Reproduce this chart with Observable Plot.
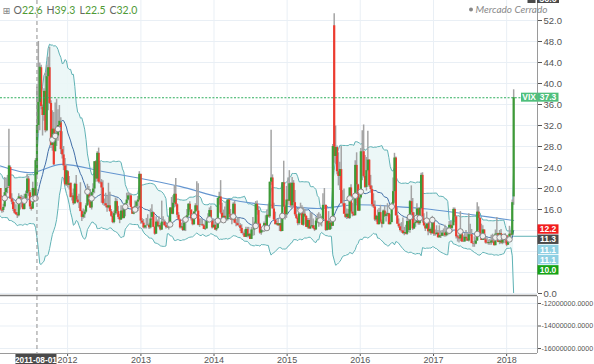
<!DOCTYPE html>
<html><head><meta charset="utf-8">
<script src="https://cdn.jsdelivr.net/npm/d3@7"></script>
<script src="https://cdn.jsdelivr.net/npm/@observablehq/plot@0.6"></script>
<style>
html,body{margin:0;padding:0;background:#fff;}
#wrap{position:relative;width:594px;height:364px;overflow:hidden;background:#fff;}
#wrap svg{display:block;}
#over{position:absolute;left:0;top:0;pointer-events:none;}
</style></head><body><div id="wrap"></div>
<script>
// ---- weekly VIX candles, first week starts Monday 2010-09-06 ----
const startWeek = "2010-09-06";
const opens = [
/*2010*/23.8,22.0,22.0,21.7,22.5,19.0,19.2,20.0,21.2,18.5,20.6,18.3,22.0,18.1,17.6,16.2,16.6,
/*2011*/17.9,17.1,15.6,18.5,20.0,15.9,15.8,16.5,19.2,20.0,20.4,24.0,18.0,17.4,16.0,15.4,15.0,14.8,18.3,17.3,17.4,16.0,18.0,19.0,21.8,19.2,16.5,16.1,19.9,17.6,22.6,32.0,36.4,43.0,35.5,33.9,38.5,31.0,41.3,43.0,36.2,28.2,31.3,27.0,30.5,30.0,32.0,32.5,27.4,26.4,24.3,20.7,
/*2012*/23.2,20.6,21.0,18.4,18.6,17.1,20.8,17.8,17.3,17.3,15.6,14.5,15.0,15.5,16.7,19.6,17.4,16.3,19.2,19.9,25.1,21.8,26.7,21.2,21.1,20.1,17.1,17.1,16.7,16.3,16.7,15.6,14.7,13.5,15.2,17.5,15.6,14.5,14.0,15.7,14.3,16.1,17.1,17.8,18.6,18.6,16.4,15.1,15.9,16.6,17.4,17.8,22.7,
/*2013*/13.8,13.4,12.5,12.9,12.9,13.0,12.5,14.5,15.4,12.6,11.3,13.6,12.7,12.9,12.1,13.6,13.6,12.9,12.6,12.5,13.0,16.3,15.1,17.2,18.9,16.9,14.9,14.0,12.5,12.7,12.0,13.4,14.4,14.8,17.0,15.9,14.2,13.1,15.5,16.7,15.7,13.0,13.1,13.1,12.9,12.2,12.3,13.7,13.8,15.8,13.8,12.5,
/*2014*/13.0,12.1,12.4,18.1,18.4,15.3,13.6,14.7,14.0,14.1,17.8,15.0,14.4,14.0,17.0,13.4,13.3,12.9,12.9,12.4,11.4,11.4,10.7,12.2,10.9,11.3,10.3,12.1,12.1,12.7,17.0,15.8,13.2,11.5,12.1,12.1,13.3,12.1,14.9,14.6,21.2,22.0,16.1,14.0,13.1,13.3,12.9,13.3,11.8,21.1,16.5,15.0,
/*2015*/17.8,17.6,20.9,16.7,21.0,17.3,15.0,14.3,13.3,15.2,16.0,13.0,15.1,14.7,12.6,13.9,12.3,12.7,12.9,12.4,12.1,13.8,14.2,13.8,14.0,14.0,16.8,16.8,12.0,13.7,12.1,13.4,12.8,51.0,26.1,27.8,23.2,22.3,23.6,17.1,17.1,15.1,14.5,15.1,14.3,20.1,15.5,15.1,14.8,24.4,20.7,15.7,
/*2016*/18.2,27.0,27.0,22.3,20.2,23.4,25.4,20.5,19.8,16.9,16.5,14.0,14.7,13.1,15.4,13.6,13.2,15.7,14.7,15.0,15.2,13.1,13.5,17.0,19.4,25.8,14.8,13.2,12.7,12.0,11.9,11.4,11.6,11.3,13.7,12.0,17.5,15.4,12.3,13.3,13.5,16.1,13.3,16.2,22.5,14.2,12.9,12.3,14.1,11.75,12.2,11.4,
/*2017*/14.0,11.3,11.2,11.5,10.6,11.0,10.9,11.5,11.5,11.0,11.7,11.3,13.0,12.4,12.9,16.0,14.6,10.8,10.6,10.4,12.0,9.8,9.8,10.7,10.4,10.0,11.2,11.2,9.5,9.4,9.4,10.0,15.5,14.3,11.3,10.1,12.1,10.2,9.6,9.5,9.7,9.6,10.0,9.8,9.1,11.3,11.4,9.7,11.4,9.6,10.5,10.9,
/*2018*/11.0,9.2,10.2,11.3,11.1,18.4];
const highs = [
/*2010*/24.0,23.1,23.4,23.9,23.0,20.6,21.5,22.3,22.0,21.2,22.6,22.5,23.1,18.7,17.9,16.8,18.3,
/*2011*/18.2,17.4,18.9,20.7,20.0,16.1,17.0,22.1,21.8,22.5,31.3,24.3,19.0,17.9,17.3,16.9,15.4,19.0,18.6,18.7,18.5,18.9,19.5,22.7,22.3,19.6,17.0,21.2,20.1,25.7,39.3,48.0,43.9,43.5,35.9,39.0,42.0,43.5,45.0,46.9,36.7,34.8,34.5,36.3,37.0,35.0,35.8,33.5,30.8,28.0,25.7,24.6,
/*2012*/23.4,22.3,21.0,19.1,19.9,21.0,22.5,18.5,18.9,21.1,15.8,16.1,15.9,17.1,20.8,20.4,19.8,19.3,20.9,25.1,25.3,27.0,27.7,24.9,21.7,21.5,18.0,19.1,18.7,21.0,19.3,16.0,15.4,15.7,18.2,18.0,16.6,15.1,16.7,16.2,16.6,17.2,19.1,19.2,19.1,18.9,16.4,16.5,17.6,17.6,18.5,23.2,22.7,
/*2013*/14.3,14.1,13.0,14.3,15.0,13.4,16.1,16.9,15.5,12.7,14.6,14.0,14.6,13.3,17.6,14.6,14.0,13.5,13.2,14.5,16.3,18.3,18.6,20.5,21.9,17.1,15.4,14.2,13.4,14.2,13.8,14.7,16.0,17.1,17.5,15.9,14.7,15.6,17.1,21.3,20.9,14.2,14.3,14.1,13.2,13.8,13.7,15.2,16.3,16.6,13.9,14.2,
/*2014*/13.6,13.4,18.2,19.3,21.5,17.2,15.9,16.5,17.4,17.9,17.8,16.0,14.5,17.3,17.6,14.1,14.4,14.4,13.3,13.1,11.7,12.1,12.6,12.6,12.6,11.3,12.6,14.5,13.6,17.5,17.6,16.5,13.4,12.3,12.6,13.6,14.8,15.9,17.0,21.2,31.1,22.6,17.2,15.5,13.8,14.2,13.3,14.4,21.1,25.2,16.8,20.4,
/*2015*/22.0,23.4,21.1,22.1,21.5,19.6,16.3,14.6,15.4,17.2,16.7,16.4,16.0,14.8,14.3,14.3,15.4,15.3,14.2,12.9,14.5,15.1,15.4,15.1,14.7,19.0,20.0,16.8,13.8,15.6,14.3,14.6,28.4,53.3,31.9,28.1,26.8,25.0,28.0,19.6,19.9,17.1,16.1,16.0,20.1,20.7,17.2,18.2,25.3,26.8,20.8,18.9,
/*2016*/27.6,31.0,32.1,26.3,25.9,30.9,25.5,22.5,20.5,19.0,17.6,14.9,15.9,16.2,16.8,14.0,15.9,16.7,15.5,17.1,15.3,15.0,17.3,22.0,26.7,26.0,16.4,14.2,13.3,13.5,14.4,12.6,13.0,14.4,14.0,17.7,20.5,18.1,15.4,14.0,17.1,16.3,16.4,22.9,23.0,15.2,13.1,15.5,14.2,14.1,12.5,14.7,
/*2017*/14.3,12.1,12.9,12.0,12.9,11.9,12.0,12.3,13.0,12.4,12.5,13.7,13.7,13.6,16.3,16.3,14.7,11.1,11.1,15.6,12.1,11.0,11.4,12.0,11.4,15.2,13.2,12.2,9.9,10.8,10.6,17.3,16.5,14.5,13.2,12.9,12.1,10.8,10.6,10.2,10.3,11.1,11.3,10.5,12.1,14.5,11.5,12.0,12.2,11.0,10.8,11.4,
/*2018*/11.1,10.6,12.8,12.0,17.8,38.8];
const lows = [
/*2010*/21.3,21.0,21.2,21.4,18.6,18.5,18.6,19.3,18.0,18.2,18.0,17.9,17.9,17.1,15.4,15.6,16.0,
/*2011*/16.8,15.2,15.3,16.9,15.7,15.3,15.4,16.3,18.2,19.0,20.0,17.9,16.9,15.6,15.1,14.9,14.3,14.6,15.9,16.3,15.9,15.9,17.6,17.9,18.5,16.0,15.7,16.0,17.3,17.5,22.5,30.5,31.0,35.0,30.0,32.8,30.6,30.8,34.8,36.0,27.6,27.1,24.4,27.0,28.0,29.0,31.0,26.5,25.6,23.4,20.5,20.4,
/*2012*/20.1,19.7,18.2,17.6,16.8,17.0,17.5,17.1,16.2,15.6,13.7,14.2,14.3,15.3,16.6,16.9,16.2,15.9,18.7,19.0,21.2,21.3,20.9,20.8,17.2,16.8,16.6,16.3,15.5,16.1,15.5,14.5,13.3,13.3,14.9,15.0,14.1,13.3,13.9,14.2,14.2,14.6,16.9,17.6,16.8,16.3,15.1,15.0,15.6,15.4,15.6,17.6,13.2,
/*2013*/13.2,12.3,12.3,12.3,12.9,12.2,12.3,13.9,12.6,11.1,11.3,12.7,12.5,11.9,12.0,13.0,12.8,12.3,12.4,12.1,13.0,15.1,15.0,16.3,16.5,14.4,13.8,12.3,12.3,11.8,11.8,11.8,13.9,14.5,15.5,13.8,12.9,13.0,14.8,15.6,12.9,12.6,12.9,12.8,12.2,12.0,12.3,13.4,13.6,13.8,12.3,12.5,
/*2014*/12.0,11.8,12.3,16.8,15.0,13.6,13.4,13.4,13.9,13.8,14.5,13.9,13.1,13.8,13.3,12.7,12.9,12.6,11.8,11.4,11.0,10.7,10.7,10.6,10.6,10.3,10.3,10.9,11.0,12.6,14.9,12.6,11.3,11.1,11.6,11.7,12.1,12.0,14.4,14.3,20.6,16.1,13.9,13.1,12.9,12.8,11.8,11.7,11.8,16.4,14.0,14.3,
/*2015*/16.8,17.5,16.3,16.0,16.4,14.7,14.1,12.9,13.0,14.8,13.0,12.8,14.5,12.6,12.3,12.3,12.2,12.6,12.2,11.8,12.1,13.3,12.6,12.9,12.7,14.0,16.1,11.8,11.9,12.1,12.0,12.2,12.8,24.8,24.6,22.6,20.5,19.6,17.1,16.6,15.1,14.3,14.1,14.2,14.1,15.3,14.6,14.7,14.8,17.0,15.6,15.6,
/*2016*/18.0,21.5,22.0,20.0,19.5,23.2,20.2,19.1,16.5,16.2,13.7,13.6,13.1,13.1,13.4,12.5,13.1,14.5,13.6,14.6,13.1,13.1,13.5,16.5,17.2,14.7,13.2,12.4,11.7,11.5,11.3,11.0,11.2,11.1,11.6,11.5,15.0,12.0,12.2,12.6,13.4,13.0,13.0,16.0,13.4,12.7,11.8,12.3,11.0,11.4,11.1,11.3,
/*2017*/10.9,10.9,11.2,10.6,10.6,10.5,10.9,10.8,10.7,10.8,11.0,11.2,11.5,11.6,12.9,13.5,10.4,9.8,9.6,9.9,9.8,9.7,9.8,9.9,9.9,9.8,10.9,9.5,8.8,8.8,9.3,9.9,11.9,11.1,10.1,10.1,10.1,9.4,9.5,9.2,9.2,9.2,9.5,9.1,9.1,10.5,9.7,9.3,9.4,9.3,9.5,9.5,
/*2018*/8.9,9.2,10.1,10.5,11.0,16.8];
const closes = [
/*2010*/22.0,22.0,21.7,22.5,18.9,19.1,19.8,21.2,18.3,20.6,18.0,22.0,18.0,17.6,16.1,16.5,17.8,
/*2011*/17.1,15.5,18.5,20.0,15.9,15.7,16.4,19.2,20.0,20.1,24.3,18.0,17.4,16.0,15.3,15.0,14.8,18.4,17.1,17.4,16.0,17.9,18.9,21.8,19.3,16.5,16.0,20.0,17.5,25.3,32.0,36.4,43.1,35.6,33.9,38.5,31.0,41.3,43.0,36.2,28.2,31.3,24.5,30.5,30.0,32.0,32.8,27.4,26.4,24.3,20.7,23.4,
/*2012*/20.6,20.9,18.3,18.5,17.1,20.8,17.8,17.3,17.3,15.6,14.5,15.0,15.5,16.7,19.6,17.4,16.3,19.2,19.9,25.1,21.8,26.7,21.2,21.1,20.1,17.1,17.1,16.7,16.3,16.7,15.6,14.7,13.5,15.2,17.5,15.6,14.5,14.0,15.7,14.3,16.1,17.1,17.8,18.6,18.6,16.4,15.1,15.9,16.6,17.4,17.8,22.7,13.8,
/*2013*/13.4,12.5,12.9,12.9,13.0,12.5,14.2,15.4,12.6,11.3,13.6,12.7,12.9,12.1,13.6,13.6,12.9,12.6,12.5,13.0,16.3,15.1,17.2,18.9,16.9,14.9,14.0,12.5,12.7,12.0,13.4,14.4,14.8,17.0,15.9,14.2,13.1,15.5,16.7,15.7,13.0,13.1,13.1,12.9,12.2,12.3,13.7,13.8,15.8,13.8,12.5,13.0,
/*2014*/12.1,12.4,18.1,18.4,15.3,13.6,14.7,14.0,14.1,17.8,15.0,14.4,14.0,17.0,13.4,13.3,12.9,12.9,12.4,11.4,11.4,10.7,12.2,10.9,11.3,10.3,12.1,12.1,12.7,17.0,15.8,13.2,11.5,12.1,12.1,13.3,12.1,14.9,14.6,21.2,22.0,16.1,14.0,13.1,13.3,12.9,13.3,11.8,21.1,16.5,15.0,17.8,
/*2015*/17.6,20.9,16.7,21.0,17.3,15.0,14.3,13.3,15.2,16.0,13.0,15.1,14.7,12.6,13.9,12.3,12.7,12.9,12.4,12.1,13.8,14.2,13.8,14.0,14.0,16.8,16.8,12.0,13.7,12.1,13.4,12.8,28.0,26.1,27.8,23.2,22.3,23.6,17.1,17.1,15.1,14.5,15.1,14.3,20.1,15.5,15.1,14.8,24.4,20.7,15.7,18.2,
/*2016*/27.0,27.0,22.3,20.2,23.4,25.4,20.5,19.8,16.9,16.5,14.0,14.7,13.1,15.4,13.6,13.2,15.7,14.7,15.0,15.2,13.1,13.5,17.0,19.4,25.8,14.8,13.2,12.7,12.0,11.9,11.4,11.6,11.3,13.7,12.0,17.5,15.4,12.3,13.3,13.5,16.1,13.3,16.2,22.5,14.2,12.9,12.3,14.1,11.75,12.2,11.4,14.0,
/*2017*/11.3,11.2,11.5,10.6,11.0,10.9,11.5,11.5,11.0,11.7,11.3,13.0,12.4,12.9,16.0,14.6,10.8,10.6,10.4,12.0,9.8,9.8,10.7,10.4,10.0,11.2,11.2,9.5,9.4,9.4,10.0,15.5,14.3,11.3,10.1,12.1,10.2,9.6,9.5,9.7,9.6,10.0,9.8,9.1,11.3,11.4,9.7,11.4,9.6,10.5,10.9,11.0,
/*2018*/9.2,10.2,11.3,11.1,17.3,37.3];

// long moving average
const maDates = ["2011-01-31","2011-07-01","2011-12-01","2012-07-01","2013-01-01","2013-07-15","2014-02-01","2014-08-01","2015-01-01","2015-06-01","2015-12-15","2016-06-15","2016-12-01","2017-06-01","2017-10-01","2018-02-05"];
const maValues = [24.3,23.0,24.6,23.2,21.9,20.4,18.3,17.1,16.6,16.2,16.9,16.6,16.1,15.2,14.6,13.9];

const yTicks = [0,4,8,12,16,20,24,28,32,36,40,44,48,52,56];
const yTickLabels = [0,16,20,24,28,32,36,40,44,48,52];   // the others sit under the price boxes
const volTicks = [-16000000,-14000000,-12000000];
const legendOHLC = {O:"22.6", H:"39.3", L:"22.5", C:"32.0"};
const crossDateStr = "2011-08-01";
const lastPrice = 37.3;
const bandRefLevel = 10.9;
const sideLabels = [
  {text:"12.2", fill:"#f21d1d"},
  {text:"11.3", fill:"#4a4a4a"},
  {text:"11.1", fill:"#8fd0e3"},
  {text:"11.1", fill:"#8fd0e3"},
  {text:"10.0", fill:"#15a315"}
];

// ---- build ----
const n = Math.min(opens.length, highs.length, lows.length, closes.length);
const t0 = Date.parse(startWeek + "T00:00:00Z");
const rows = d3.range(n).map(i => ({date:new Date(t0 + i*7*864e5), o:opens[i], h:highs[i], l:lows[i], c:closes[i]}));
const P = 20;
rows.forEach((r,i) => {
  if (i >= P-1) {
    const w = closes.slice(i-P+1, i+1);
    const m = d3.mean(w);
    const s = Math.sqrt(d3.mean(w, v => (v-m)**2));
    r.mid = m; r.up = m + 2*s; r.lo = m - 2*s;
  }
});
const xStart = new Date("2011-01-31T00:00:00Z"), xEnd = new Date("2018-06-04T00:00:00Z");
const vis = rows.filter(r => r.mid != null && r.date >= new Date(+xStart - 14*864e5));
const up = vis.filter(r => r.c >= r.o), down = vis.filter(r => r.c < r.o);
const crosses = [];
for (let i = 1; i < vis.length; i++) {
  const a = vis[i-1].c - vis[i-1].mid, b = vis[i].c - vis[i].mid;
  if (a < 0 && b > 0 && vis[i].date >= xStart) crosses.push(vis[i]);
}
const maPts = maDates.map((d,i) => ({date:new Date(d+"T00:00:00Z"), v:maValues[i]}));
const yearTicks = d3.utcYears(new Date("2012-01-01T00:00:00Z"), new Date("2018-06-01T00:00:00Z"));
const crossDate = new Date(crossDateStr + "T00:00:00Z");
const lastDate = rows[n-1].date;
const font = '"Liberation Sans", Arial, sans-serif';

const main = Plot.plot({
  width:594, height:296, marginLeft:0, marginRight:57, marginTop:0, marginBottom:3,
  style:{fontFamily:font, fontSize:"9.5px", color:"#555", background:"#fff", overflow:"visible"},
  x:{type:"utc", domain:[xStart, xEnd], axis:null},
  y:{domain:[0, 55.81], axis:"right", ticks:yTickLabels, tickFormat:d => d.toFixed(1), tickSize:4, tickPadding:2, label:null},
  marks:[
    Plot.ruleY(yTicks, {stroke:"#e9eff5"}),
    Plot.ruleX(yearTicks, {stroke:"#e9eff5"}),
    Plot.areaY(vis, {x:"date", y1:"lo", y2:"up", fill:"#eaf6f6", fillOpacity:0.9, clip:true}),
    Plot.line(vis, {x:"date", y:"up", stroke:"#5fb2b5", strokeWidth:1, clip:true}),
    Plot.line(vis, {x:"date", y:"lo", stroke:"#5fb2b5", strokeWidth:1, clip:true}),
    Plot.line(maPts, {x:"date", y:"v", stroke:"#6596d0", strokeWidth:1.1, curve:"monotone-x", clip:true}),
    Plot.line(vis, {x:"date", y:"mid", stroke:"#426fa8", strokeWidth:1, clip:true}),
    Plot.ruleY([{y:bandRefLevel, x1:lastDate, x2:xEnd}], {y:"y", x1:"x1", x2:"x2", stroke:"#5fb2b5", strokeWidth:1}),
    Plot.ruleX(vis, {x:"date", y1:"l", y2:"h", stroke:"#a4a4a4", strokeWidth:1.5, clip:true}),
    Plot.ruleX(down, {x:"date", y1:"o", y2:"c", stroke:"#ee3b2f", strokeWidth:2.2, clip:true}),
    Plot.ruleX(up, {x:"date", y1:"o", y2:"c", stroke:"#3d9b37", strokeWidth:2.2, clip:true}),
    Plot.dot(crosses, {x:"date", y:"mid", r:2.8, fill:"#f0f0f0", stroke:"#8a8a8a", strokeWidth:1, clip:true}),
    Plot.ruleY([lastPrice], {stroke:"#2fae5e", strokeDasharray:"2,1.6", strokeWidth:1.1}),
    Plot.ruleX([crossDate], {stroke:"#8f8f8f", strokeDasharray:"4,3"}),
    Plot.ruleX([xEnd], {stroke:"#9a9a9a"})
  ]
});

const lower = Plot.plot({
  width:594, height:68, marginLeft:0, marginRight:57, marginTop:0, marginBottom:11,
  style:{fontFamily:font, fontSize:"9px", color:"#555", background:"#fff", overflow:"visible"},
  x:{type:"utc", domain:[xStart, xEnd], ticks:yearTicks, tickFormat:"%Y", tickSize:3, tickPadding:0, label:null},
  y:{domain:[-16440000, -11380000], axis:"right", ticks:volTicks, tickFormat:d => d.toFixed(4), tickSize:3, tickPadding:1, label:null},
  marks:[
    Plot.ruleY(volTicks, {stroke:"#e9eff5"}),
    Plot.ruleX(yearTicks, {stroke:"#e9eff5"}),
    Plot.ruleX([crossDate], {stroke:"#8f8f8f", strokeDasharray:"4,3"}),
    Plot.ruleX([xEnd], {stroke:"#9a9a9a"}),
    Plot.ruleY([-16440000], {stroke:"#9a9a9a"})
  ]
});

const wrap = document.getElementById("wrap");
wrap.appendChild(main);
wrap.appendChild(lower);
// shrink the long volume tick labels so they fit the right margin
d3.select(lower).selectAll('g[aria-label="y-axis tick label"] text, g[aria-label="y-axis tick label"]').style("font-size","7.1px");

// ---- overlay: legend, side labels ----
const ys = main.scale("y"), xs = main.scale("x");
const svg = d3.select(wrap).append("svg").attr("id","over").attr("width",594).attr("height",364)
  .style("font-family", font);

// separator between panes
svg.append("line").attr("x1",0).attr("x2",537).attr("y1",295.5).attr("y2",295.5).attr("stroke","#7a7a7a").attr("stroke-width",1.5);

// legend
const lg = svg.append("g").style("font-family",'Lato, "Open Sans", sans-serif').style("font-size","10.5px");
lg.append("text").attr("x",2.5).attr("y",13.5).attr("fill","#8a8a8a").style("font-family","DejaVu Sans").style("font-size","9.5px").text("⊞");
const lgX = {O:13.5, H:46.5, L:79.5, C:109.5};
Object.entries(legendOHLC).forEach(([k,v]) => {
  const t = lg.append("text").attr("x", lgX[k]).attr("y", 14);
  t.append("tspan").attr("fill","#666").text(k);
  t.append("tspan").attr("fill","#4f9a36").text(v);
});
// market status
svg.append("circle").attr("cx",471).attr("cy",9.5).attr("r",2).attr("fill","#888");
svg.append("text").attr("x",475.5).attr("y",13).attr("fill","#8a8a8a").style("font-size","10px").style("font-style","italic")
  .style("font-family",'Lato, "Open Sans", sans-serif').text("Mercado Cerrado");

// top crosshair price box
svg.append("rect").attr("x",527.5).attr("y",-6).attr("width",8).attr("height",9).attr("fill","#4a4a4a");
svg.append("rect").attr("x",537).attr("y",-8).attr("width",22).attr("height",11).attr("fill","#4a4a4a");
svg.append("text").attr("x",548).attr("y",2).attr("text-anchor","middle").attr("fill","#fff").style("font-size","9px").style("font-weight","bold").text("56.0");

// VIX last price label
const yL = ys.apply(lastPrice);
svg.append("rect").attr("x",521).attr("y",yL-4.5).attr("width",16.5).attr("height",9).attr("fill","#4fbf7c");
svg.append("text").attr("x",529.2).attr("y",yL+3.2).attr("text-anchor","middle").attr("fill","#fff").style("font-size","8.5px").style("font-weight","bold").text("VIX");
svg.append("rect").attr("x",537.5).attr("y",yL-4.5).attr("width",21).attr("height",9).attr("fill","#4fbf7c");
svg.append("text").attr("x",548).attr("y",yL+3.2).attr("text-anchor","middle").attr("fill","#fff").style("font-size","8.5px").style("font-weight","bold").text(lastPrice.toFixed(1));

// stacked indicator labels
const y0 = ys.apply(+sideLabels[0].text);
sideLabels.forEach((s,i) => {
  const yc = y0 + i*10.2;
  svg.append("rect").attr("x",537.5).attr("y",yc-4.6).attr("width",21).attr("height",9.4).attr("fill",s.fill);
  svg.append("text").attr("x",548).attr("y",yc+3.2).attr("text-anchor","middle").attr("fill","#fff").style("font-size","8.5px").style("font-weight","bold").text(s.text);
});

// crosshair date label
const cx = xs.apply(crossDate);
svg.append("rect").attr("x",cx-21).attr("y",354).attr("width",41).attr("height",11).attr("fill","#4a4a4a");
svg.append("text").attr("x",cx-0.5).attr("y",362.5).attr("text-anchor","middle").attr("fill","#fff").style("font-size","8.3px").style("font-weight","bold").text(crossDateStr);
</script></body></html>
